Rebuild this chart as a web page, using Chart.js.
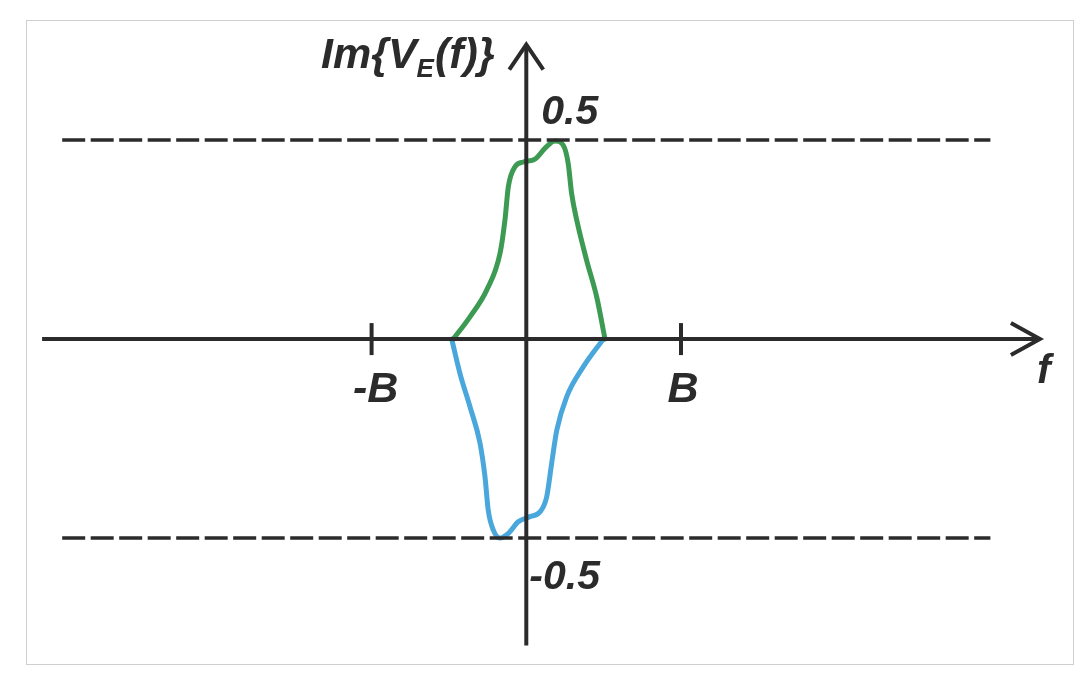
<!DOCTYPE html>
<html>
<head>
<meta charset="utf-8">
<script src="https://cdn.jsdelivr.net/npm/chart.js@4"></script>
<style>
html,body{margin:0;padding:0;background:#fff;}
#wrap{position:relative;width:1086px;height:675px;}
#frame{position:absolute;left:26px;top:20px;width:1046px;height:643px;border:1px solid #cfcfcf;pointer-events:none;}
canvas{position:absolute;left:0;top:0;}
</style>
</head>
<body>
<div id="wrap"><canvas id="c" width="1086" height="675"></canvas><div id="frame"></div></div>
<script>
// Frequency in units of B; values of Im{V_E(f)}
const greenF = [-0.472,-0.364,-0.256,-0.170,-0.138,-0.116,-0.073,-0.019,0.056,0.120,0.185,0.239,0.271,0.293,0.326,0.390,0.455,0.509];
const greenV = [0,0.056,0.123,0.215,0.299,0.383,0.433,0.445,0.452,0.479,0.498,0.487,0.441,0.366,0.299,0.198,0.106,0];
const blueF = [-0.482,-0.429,-0.364,-0.299,-0.267,-0.246,-0.213,-0.170,-0.116,-0.052,0.024,0.089,0.132,0.164,0.197,0.261,0.368,0.498];
const blueV = [0,-0.086,-0.170,-0.262,-0.346,-0.430,-0.480,-0.500,-0.488,-0.459,-0.446,-0.434,-0.396,-0.312,-0.229,-0.145,-0.070,0];
const levelValues = [0.5,-0.5];
const levelLabels = ['0.5','-0.5'];
const levelRange = [-3,3];
const tickValues = [-1,1];
const tickLabels = ['-B','B'];
const xAxisRange = [-3.13,3.32];
const yAxisRange = [-0.77,0.74];
const xTitle = 'f';
const yTitleMain = 'Im{V';
const yTitleSub = 'E';
const yTitleEnd = '(f)}';

const INK = '#2b2b2b';
const FONT = '"Liberation Sans", Arial, sans-serif';
const toPts = (xs, ys) => xs.map((x,i)=>({x, y: ys[i]}));

const datasets = [];
levelValues.forEach(v => datasets.push({
  data: levelRange.map(x=>({x, y:v})),
  borderColor: INK, borderWidth: 3.5, borderDash:[23,5.5], pointRadius:0, fill:false
}));
datasets.push({data: toPts(greenF, greenV), borderColor:'#3c9a52', borderWidth:5, pointRadius:0, cubicInterpolationMode:'monotone', fill:false, borderCapStyle:'round'});
datasets.push({data: toPts(blueF, blueV), borderColor:'#4aa7dc', borderWidth:5, pointRadius:0, cubicInterpolationMode:'monotone', fill:false, borderCapStyle:'round'});

const axesPlugin = {
  id:'axes',
  afterDatasetsDraw(chart){
    const ctx = chart.ctx, xs = chart.scales.x, ys = chart.scales.y;
    const X = v=>xs.getPixelForValue(v), Y = v=>ys.getPixelForValue(v);
    ctx.save();
    ctx.strokeStyle = INK; ctx.fillStyle = INK; ctx.lineWidth = 4; ctx.lineCap='butt';
    const y0 = Y(0), x0 = X(0);
    // x axis
    ctx.beginPath(); ctx.moveTo(X(xAxisRange[0]), y0); ctx.lineTo(X(xAxisRange[1])-2, y0); ctx.stroke();
    const xt = X(xAxisRange[1]);
    ctx.lineJoin='miter';
    ctx.beginPath(); ctx.moveTo(xt-29, y0-16); ctx.lineTo(xt, y0); ctx.lineTo(xt-29, y0+16); ctx.stroke();
    // y axis
    ctx.beginPath(); ctx.moveTo(x0, Y(yAxisRange[0])); ctx.lineTo(x0, Y(yAxisRange[1])+2); ctx.stroke();
    const yt = Y(yAxisRange[1]);
    ctx.beginPath(); ctx.moveTo(x0-17, yt+25); ctx.lineTo(x0, yt); ctx.lineTo(x0+17, yt+25); ctx.stroke();
    // ticks
    ctx.textBaseline='alphabetic';
    tickValues.forEach((v,i)=>{
      ctx.beginPath(); ctx.moveTo(X(v), y0-16); ctx.lineTo(X(v), y0+16); ctx.stroke();
      ctx.font = 'italic bold 43px ' + FONT;
      ctx.textAlign='center';
      ctx.fillText(tickLabels[i], X(v) + (v<0? 4 : 2), y0+63);
    });
    // level labels
    ctx.font = 'italic bold 41px ' + FONT;
    ctx.textAlign='left';
    ctx.fillText(levelLabels[0], x0+15, Y(levelValues[0])-16);
    ctx.fillText(levelLabels[1], x0+3, Y(levelValues[1])+51);
    // x title
    ctx.font = 'italic bold 41px ' + FONT;
    ctx.fillText(xTitle, xt-3, y0+44);
    // y title
    ctx.font = 'italic bold 43px ' + FONT;
    let tx = 321, ty = 68;
    ctx.fillText(yTitleMain, tx, ty);
    tx += ctx.measureText(yTitleMain).width;
    ctx.font = 'italic bold 26px ' + FONT;
    ctx.fillText(yTitleSub, tx, ty+9);
    tx += ctx.measureText(yTitleSub).width + 1;
    ctx.font = 'italic bold 43px ' + FONT;
    ctx.fillText(yTitleEnd, tx, ty);
    ctx.restore();
  }
};

new Chart(document.getElementById('c'), {
  type:'line',
  data:{datasets},
  options:{
    responsive:false, animation:false, devicePixelRatio:1,
    layout:{padding:0},
    plugins:{legend:{display:false}, tooltip:{enabled:false}},
    scales:{
      x:{type:'linear', min:-3.402, max:3.618, display:false},
      y:{type:'linear', min:-0.844, max:0.852, display:false}
    }
  },
  plugins:[axesPlugin]
});
</script>
</body>
</html>
